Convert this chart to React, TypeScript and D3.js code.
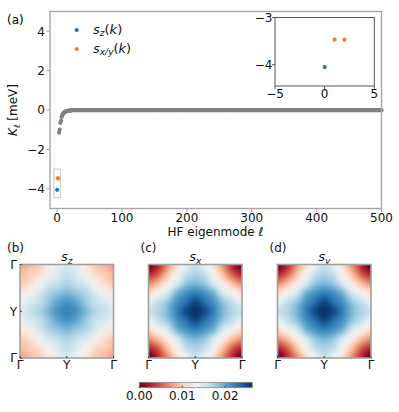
import React, { useMemo } from "react";
import * as d3 from "d3";

const WIDTH = 399;
const HEIGHT = 412;
const FONT = "DejaVu Sans, sans-serif";

// (a) HF eigenmode energies K_l [meV]
const szModes = [0];
const szValues = [-4.05];
const sxyModes = [1, 2];
const sxyValues = [-3.47, -3.47];
const grayFirstMode = 3;
const grayValues = [
  -1.15, -1.0, -0.65, -0.55, -0.35, -0.25, -0.2, -0.15, -0.12, -0.1, -0.08,
  -0.07, -0.06, -0.05, -0.04, -0.04, -0.03, -0.03, -0.02, -0.02,
];
const plateauValue = -0.01; // remaining modes sit on zero
const lastMode = 500;

const mainXTicks = [0, 100, 200, 300, 400, 500];
const mainYTicks = [-4, -2, 0, 2, 4];
const insetXTicks = [-5, 0, 5];
const insetYTicks = [-4, -3];

// (b)-(d) quarter of the BZ, corner (Gamma) -> centre, 6x6, mirrored
const szQuarter = [
  [0.008, 0.009, 0.010, 0.012, 0.014, 0.015],
  [0.009, 0.010, 0.011, 0.013, 0.015, 0.016],
  [0.010, 0.011, 0.013, 0.015, 0.016, 0.017],
  [0.012, 0.013, 0.015, 0.017, 0.018, 0.019],
  [0.014, 0.015, 0.016, 0.018, 0.020, 0.021],
  [0.015, 0.016, 0.017, 0.019, 0.021, 0.022],
];
const sxQuarter = [
  [0.000, 0.003, 0.007, 0.011, 0.014, 0.016],
  [0.003, 0.005, 0.009, 0.013, 0.016, 0.017],
  [0.007, 0.009, 0.012, 0.015, 0.018, 0.019],
  [0.011, 0.013, 0.015, 0.019, 0.021, 0.022],
  [0.014, 0.016, 0.018, 0.021, 0.023, 0.025],
  [0.016, 0.017, 0.019, 0.022, 0.025, 0.026],
];
const syQuarter = [
  [0.000, 0.003, 0.007, 0.011, 0.014, 0.016],
  [0.003, 0.005, 0.009, 0.013, 0.016, 0.017],
  [0.007, 0.009, 0.012, 0.015, 0.018, 0.019],
  [0.011, 0.013, 0.015, 0.019, 0.021, 0.022],
  [0.014, 0.016, 0.018, 0.021, 0.023, 0.025],
  [0.016, 0.017, 0.019, 0.022, 0.025, 0.026],
];
const panelLetters = ["(b)", "(c)", "(d)"];
const panelTitles = ["z", "x", "y"];
const bzTickLabels = ["Γ", "Y", "Γ"];
const cbarTicks = [0, 0.01, 0.02];
const cbarMax = 0.0263;

const BLUE = "#1f77b4";
const ORANGE = "#ff7f0e";
const GRAY = "#808080";

const fmt = (v: number) => String(v).replace("-", "\u2212");

// mirror the quarter into the full zone
function fullGrid(quarter: number[][]) {
  const n = quarter.length;
  const full = 2 * n - 1;
  return d3.range(full).map((r) =>
    d3.range(full).map((c) => quarter[r < n ? r : full - 1 - r][c < n ? c : full - 1 - c])
  );
}

// smooth (bicubic) shading of the grid, like imshow interpolation
function gridImage(quarter: number[][], color: (v: number) => string, px: number) {
  const g = fullGrid(quarter);
  const m = g.length;
  const at = (i: number) => (i < 0 ? -i : i > m - 1 ? 2 * (m - 1) - i : i);
  const cub = (p0: number, p1: number, p2: number, p3: number, t: number) =>
    0.5 * (2 * p1 + (-p0 + p2) * t + (2 * p0 - 5 * p1 + 4 * p2 - p3) * t * t + (-p0 + 3 * p1 - 3 * p2 + p3) * t * t * t);
  const canvas = document.createElement("canvas");
  canvas.width = px;
  canvas.height = px;
  const ctx = canvas.getContext("2d")!;
  for (let yy = 0; yy < px; yy++) {
    const v = ((yy + 0.5) / px) * (m - 1);
    const r = Math.min(Math.floor(v), m - 2);
    const tv = v - r;
    for (let xx = 0; xx < px; xx++) {
      const u = ((xx + 0.5) / px) * (m - 1);
      const c = Math.min(Math.floor(u), m - 2);
      const tu = u - c;
      const rows = [-1, 0, 1, 2].map((k) => {
        const row = g[at(r + k)];
        return cub(row[at(c - 1)], row[at(c)], row[at(c + 1)], row[at(c + 2)], tu);
      });
      ctx.fillStyle = color(cub(rows[0], rows[1], rows[2], rows[3], tv));
      ctx.fillRect(xx, yy, 1, 1);
    }
  }
  return canvas.toDataURL();
}

export default function App() {
  // main axes
  const x = d3.scaleLinear().domain([-11, 500]).range([50, 381.5]);
  const y = d3.scaleLinear().domain([-5, 5]).range([208.5, 11.5]);
  // inset axes
  const ix = d3.scaleLinear().domain([-5, 5]).range([275, 374.3]);
  const iy = d3.scaleLinear().domain([-4.45, -3]).range([86, 17.5]);

  const grayPoints: [number, number][] = [];
  grayValues.forEach((v, i) => grayPoints.push([grayFirstMode + i, v]));
  for (let m = grayFirstMode + grayValues.length; m <= lastMode; m++) {
    grayPoints.push([m, plateauValue]);
  }

  const color = d3.scaleSequential(d3.interpolateRdBu).domain([0, cbarMax]).clamp(true);
  const panelSize = 93.5;
  const images = useMemo(
    () => [szQuarter, sxQuarter, syQuarter].map((q) => gridImage(q, (v) => color(v), 94)),
    []
  );

  const panelLeft = [20, 148.5, 277.5];
  const panelTop = 264.5;
  const cb = d3.scaleLinear().domain([0, cbarMax]).range([139.3, 252.3]);
  const cbStops = d3.range(0, 1.0001, 0.1);

  const spine = "#a6a6a6";

  return (
    <svg width={WIDTH} height={HEIGHT} style={{ position: "absolute", left: 0, top: 0 }} fontFamily={FONT}>
      <rect width={WIDTH} height={HEIGHT} fill="white" />
      <defs>
        <linearGradient id="cbar" x1="0%" x2="100%" y1="0%" y2="0%">
          {cbStops.map((t) => (
            <stop key={t} offset={`${t * 100}%`} stopColor={d3.interpolateRdBu(t)} />
          ))}
        </linearGradient>
      </defs>

      {/* (a) main panel */}
      <text x={7} y={24} fontSize={12}>(a)</text>
      {grayPoints.map(([m, v], i) => (
        <circle key={i} cx={x(m)} cy={y(v)} r={2.1} fill={GRAY} />
      ))}
      {sxyModes.map((m, i) => (
        <circle key={"o" + i} cx={x(m)} cy={y(sxyValues[i])} r={2.1} fill={ORANGE} />
      ))}
      {szModes.map((m, i) => (
        <circle key={"b" + i} cx={x(m)} cy={y(szValues[i])} r={2.1} fill={BLUE} />
      ))}
      <rect
        x={x(-5)}
        y={y(-3)}
        width={x(5) - x(-5)}
        height={y(-4.45) - y(-3)}
        fill="none"
        stroke="#c8c8c8"
        strokeWidth={1}
      />
      <rect x={50} y={11.5} width={331.5} height={197} fill="none" stroke={spine} strokeWidth={1.4} />
      {mainXTicks.map((t) => (
        <g key={t}>
          <line x1={x(t)} x2={x(t)} y1={208.5} y2={212} stroke={spine} />
          <text x={x(t)} y={221.5} fontSize={12} textAnchor="middle" fill="#111">{t}</text>
        </g>
      ))}
      {mainYTicks.map((t) => (
        <g key={t}>
          <line x1={46.5} x2={50} y1={y(t)} y2={y(t)} stroke={spine} />
          <text x={45} y={y(t) + 4.3} fontSize={12} textAnchor="end" fill="#111">{fmt(t)}</text>
        </g>
      ))}
      <text x={215.5} y={236} fontSize={12} textAnchor="middle" fill="#111">
        HF eigenmode <tspan fontStyle="italic">ℓ</tspan>
      </text>
      <text transform="translate(17,110) rotate(-90)" fontSize={12} textAnchor="middle" fill="#111">
        <tspan fontStyle="italic">K</tspan>
        <tspan fontStyle="italic" fontSize={8.5} dy={3}>ℓ</tspan>
        <tspan dy={-3}> [meV]</tspan>
      </text>

      {/* legend */}
      <circle cx={76.7} cy={30} r={2.1} fill={BLUE} />
      <circle cx={76.7} cy={49} r={2.1} fill={ORANGE} />
      <text x={93} y={33.5} fontSize={13} fill="#111">
        <tspan fontStyle="italic">s</tspan>
        <tspan fontStyle="italic" fontSize={9} dy={2.5}>z</tspan>
        <tspan dy={-2.5}>(</tspan>
        <tspan fontStyle="italic">k</tspan>
        <tspan>)</tspan>
      </text>
      <text x={93} y={52.5} fontSize={13} fill="#111">
        <tspan fontStyle="italic">s</tspan>
        <tspan fontStyle="italic" fontSize={9} dy={2.5}>x/y</tspan>
        <tspan dy={-2.5}>(</tspan>
        <tspan fontStyle="italic">k</tspan>
        <tspan>)</tspan>
      </text>

      {/* inset */}
      <rect x={275} y={17.5} width={99.3} height={68.5} fill="white" stroke="#555" strokeWidth={1} />
      {sxyModes.map((m, i) => (
        <circle key={"io" + i} cx={ix(m)} cy={iy(sxyValues[i])} r={2.1} fill={ORANGE} />
      ))}
      {szModes.map((m, i) => (
        <circle key={"ib" + i} cx={ix(m)} cy={iy(szValues[i])} r={2.1} fill={BLUE} />
      ))}
      {insetXTicks.map((t) => (
        <g key={t}>
          <line x1={ix(t)} x2={ix(t)} y1={86} y2={89} stroke="#555" />
          <text x={ix(t)} y={98} fontSize={12} textAnchor="middle" fill="#111">{fmt(t)}</text>
        </g>
      ))}
      {insetYTicks.map((t) => (
        <g key={t}>
          <line x1={272} x2={275} y1={iy(t)} y2={iy(t)} stroke="#555" />
          <text x={272.5} y={iy(t) + 4.3} fontSize={12} textAnchor="end" fill="#111">{fmt(t)}</text>
        </g>
      ))}

      {/* (b)-(d) heatmaps */}
      {images.map((href, p) => {
        const left = panelLeft[p];
        const bz = d3.scaleLinear().domain([0, 2]).range([left, left + panelSize]);
        const bzy = d3.scaleLinear().domain([0, 2]).range([panelTop, panelTop + panelSize]);
        return (
          <g key={p}>
            <text x={p === 0 ? 7 : left - 8} y={252} fontSize={12} fill="#111">{panelLetters[p]}</text>
            <text x={left + panelSize / 2} y={261} fontSize={13} textAnchor="middle" fill="#111">
              <tspan fontStyle="italic">s</tspan>
              <tspan fontStyle="italic" fontSize={9} dy={2.5}>{panelTitles[p]}</tspan>
            </text>
            <image
              href={href}
              x={left}
              y={panelTop}
              width={panelSize}
              height={panelSize}
              preserveAspectRatio="none"
            />
            <rect x={left} y={panelTop} width={panelSize} height={panelSize} fill="none" stroke="#a0a0a0" strokeWidth={1.6} />
            {bzTickLabels.map((lab, i) => (
              <g key={i}>
                <line x1={bz(i)} x2={bz(i)} y1={panelTop + panelSize} y2={panelTop + panelSize - 2} stroke="#444" />
                <text x={bz(i)} y={368.5} fontSize={12} textAnchor="middle" fill="#111">{lab}</text>
              </g>
            ))}
            {p === 0 &&
              bzTickLabels.map((lab, i) => (
                <g key={"y" + i}>
                  <line x1={left} x2={left + 2} y1={bzy(i)} y2={bzy(i)} stroke="#444" />
                  <text x={17} y={bzy(i) + 4.3} fontSize={12} textAnchor="end" fill="#111">{lab}</text>
                </g>
              ))}
          </g>
        );
      })}

      {/* colorbar */}
      <rect x={cb(0)} y={382.3} width={cb(cbarMax) - cb(0)} height={5.4} fill="url(#cbar)" stroke="#888" strokeWidth={0.8} />
      {cbarTicks.map((t) => (
        <g key={t}>
          <line x1={cb(t)} x2={cb(t)} y1={387.7} y2={385.7} stroke="#444" />
          <text x={cb(t)} y={399.5} fontSize={12} textAnchor="middle" fill="#111">{t.toFixed(2)}</text>
        </g>
      ))}
    </svg>
  );
}
